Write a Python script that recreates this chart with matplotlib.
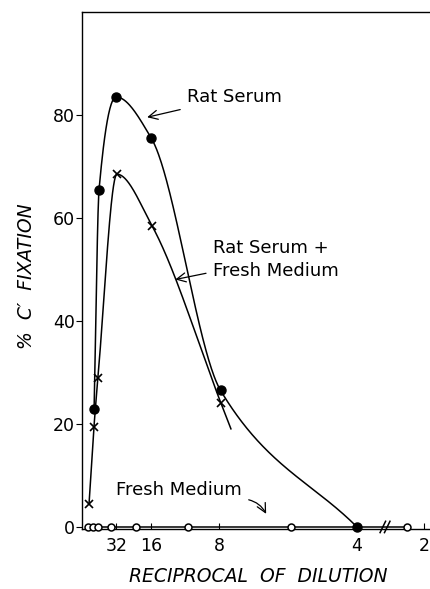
import numpy as np
import matplotlib
matplotlib.use('Agg')
import matplotlib.pyplot as plt

# values, x given as 1/dilution
rat_x = [0.011, 0.0155, 0.031, 0.063, 0.126, 0.25]
rat_y = [23, 65.5, 83.5, 75.5, 26.5, 0]

mix_x = [0.0064, 0.0109, 0.0145, 0.0318, 0.0636, 0.1264]
mix_y = [4.5, 19.5, 29, 68.5, 58.5, 24]

fresh_x = [0.0055, 0.010, 0.0145, 0.0264, 0.049, 0.096, 0.19, 0.40]
fresh_y = [0, 0, 0, 0, 0, 0, 0, 0]

tick_recip = [32, 16, 8, 4, 2]
y_ticks = [0, 20, 40, 60, 80]

# axis is broken between 4 and 2
BREAK = 0.2755
SQUEEZE = 0.158


def xpos(c):
    c = np.asarray(c, dtype=float)
    return np.where(c <= BREAK, c, BREAK + (c - BREAK) * SQUEEZE)


def smooth(x, y, xs):
    # monotone cubic (Fritsch-Carlson), chord slopes at the ends
    x = np.asarray(x, float)
    y = np.asarray(y, float)
    h = np.diff(x)
    d = np.diff(y) / h
    n = len(x)
    m = np.zeros(n)
    for k in range(1, n - 1):
        if d[k - 1] * d[k] > 0:
            w1 = 2 * h[k] + h[k - 1]
            w2 = h[k] + 2 * h[k - 1]
            m[k] = (w1 + w2) / (w1 / d[k - 1] + w2 / d[k])
    m[0] = d[0]
    m[-1] = d[-1]
    idx = np.clip(np.searchsorted(x, xs) - 1, 0, n - 2)
    t = (xs - x[idx]) / h[idx]
    h00 = 2 * t**3 - 3 * t**2 + 1
    h10 = t**3 - 2 * t**2 + t
    h01 = -2 * t**3 + 3 * t**2
    h11 = t**3 - t**2
    return h00 * y[idx] + h10 * h[idx] * m[idx] + h01 * y[idx + 1] + h11 * h[idx] * m[idx + 1]


fig = plt.figure(figsize=(4.31, 5.89), dpi=100)
ax = fig.add_axes([82 / 431, 1 - 529 / 589, 1 - 82 / 431, 517 / 589])
ax.set_xlim(0, 0.3173)
ax.set_ylim(-0.4, 100)

# smooth curves
px = xpos(rat_x)
xs = np.linspace(px[0], px[-1], 400)
ax.plot(xs, smooth(px, rat_y, xs), color='black', lw=1.1, zorder=2)

px = xpos(mix_x)
xs = np.linspace(px[0], px[-1], 400)
ys = smooth(px, mix_y, xs)
ax.plot(xs, ys, color='black', lw=1.1, zorder=2)
# short tail past the last point, as drawn in the original
slope = (ys[-1] - ys[-2]) / (xs[-1] - xs[-2])
tail = np.array([xs[-1], xs[-1] + 0.009])
ax.plot(tail, ys[-1] + slope * (tail - xs[-1]), color='black', lw=1.1, zorder=2)

ax.plot(xpos(fresh_x), fresh_y, color='black', lw=1.1, zorder=2, clip_on=False)

# markers
ax.plot(xpos(rat_x), rat_y, 'o', color='black', ms=6.5, zorder=4, clip_on=False)
ax.plot(xpos(mix_x), mix_y, 'x', color='black', ms=6, mew=1.2, zorder=4, clip_on=False)
ax.plot(xpos(fresh_x), fresh_y, 'o', mfc='white', mec='black', ms=5, mew=1.1,
        zorder=4, clip_on=False)

# break marks
for off in (-0.002, 0.002):
    ax.plot([BREAK + off - 0.0025, BREAK + off + 0.0025], [-1.1, 1.1],
            color='black', lw=1.1, zorder=5, clip_on=False)

ax.spines['right'].set_visible(False)
for s in ('left', 'top', 'bottom'):
    ax.spines[s].set_linewidth(1.0)

ax.set_yticks(y_ticks)
ax.set_yticklabels([str(v) for v in y_ticks])
ax.tick_params(axis='y', direction='out', length=4, width=0.8, pad=1, labelsize=12.5)
ax.set_xticks(xpos([1 / r for r in tick_recip]))
ax.set_xticklabels([str(r) for r in tick_recip])
ax.tick_params(axis='x', direction='in', length=4, width=0.8, pad=6, labelsize=12.5)

fig.text(27 / 431, 1 - 276 / 589, "%  C\u2032  FIXATION", rotation=90, style='italic',
         fontsize=13.5, ha='center', va='center')
fig.text(258 / 431, 1 - 576 / 589, "RECIPROCAL  OF  DILUTION", style='italic',
         fontsize=13.5, ha='center', va='center')

arrow = dict(arrowstyle='->,head_length=0.5,head_width=0.25', color='black', lw=0.9,
             shrinkA=3, shrinkB=1)
ax.annotate("Rat Serum", xy=(0.058, 79.5), xytext=(0.0955, 83.5),
            fontsize=13, ha='left', va='center', arrowprops=arrow)
ax.annotate("Rat Serum +\nFresh Medium", xy=(0.0836, 48), xytext=(0.119, 52),
            fontsize=13, ha='left', va='center', linespacing=1.35, arrowprops=arrow)
ax.annotate("Fresh Medium", xy=(0.168, 2.3), xytext=(0.031, 7.2),
            fontsize=13, ha='left', va='center',
            arrowprops=dict(arrowstyle='->,head_length=0.5,head_width=0.25', color='black',
                            lw=0.9, shrinkA=3, shrinkB=1, relpos=(1.0, 0.0),
                            connectionstyle='arc3,rad=-0.3'))

fig.savefig('out.png', dpi=100)
